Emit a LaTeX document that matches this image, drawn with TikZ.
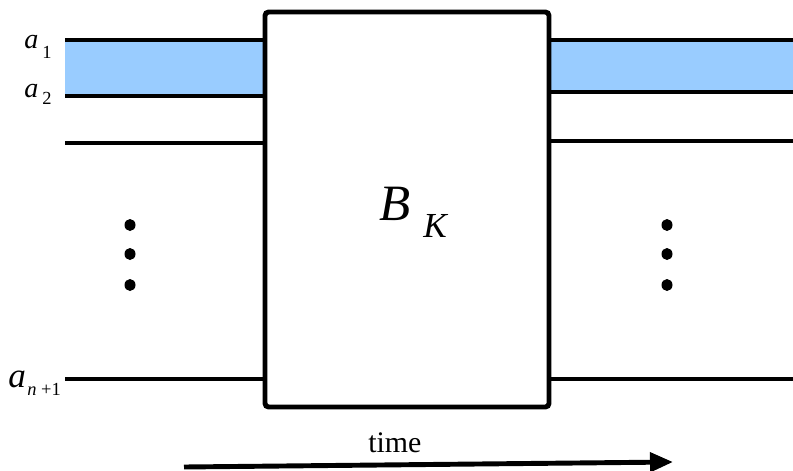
\documentclass[tikz,border=0pt]{standalone}
\usepackage{fontspec}
\setmainfont{Liberation Serif}
\usepackage{xcolor}
\usetikzlibrary{arrows.meta,positioning,calc}

\definecolor{bandblue}{HTML}{99CCFF}

\newcommand{\fsz}[1]{\fontsize{#1}{#1}\selectfont}

\begin{document}
\begin{tikzpicture}[x=0.02cm, y=-0.02cm,
    wire/.style={line width=2.8pt, black},
    lbl/.style={inner sep=0pt, anchor=base west}]
    \useasboundingbox (0,0) rectangle (793,470);

    % Shaded bands
    \fill[bandblue] (65,40) rectangle (265,96);
    \fill[bandblue] (549,40) rectangle (793,92);

    % Braid box
    \node[draw, line width=2.8pt, rounded corners=2pt, minimum width=5.68cm, minimum height=7.9cm,
          inner sep=0pt] (blk) at (407,209.5) {};
    \node[lbl] (bname) at (379,220) {\fsz{29}\itshape B};
    \node[lbl] (bsub) at (423,237) {\fsz{20}\itshape K};

    % Strands on the left
    \coordinate (l1) at (65,40);
    \coordinate (l2) at (65,96);
    \coordinate (l3) at (65,143);
    \coordinate (ln) at (65,379);
    \foreach \c in {l1,l2,l3,ln}
        \draw[wire] (\c) -- (\c -| blk.west);

    % Strands on the right
    \coordinate (r1) at (793,40);
    \coordinate (r2) at (793,92);
    \coordinate (r3) at (793,141);
    \coordinate (rn) at (793,379);
    \foreach \c in {r1,r2,r3,rn}
        \draw[wire] (\c -| blk.east) -- (\c);

    % Labels
    \node[lbl] (a1) at (24,48) {\fsz{16}\itshape a};
    \node[lbl] (a1s) at (42,58) {\fsz{10.5}1};
    \node[lbl] (a2) at (24,97) {\fsz{16}\itshape a};
    \node[lbl] (a2s) at (42,104) {\fsz{10.5}2};
    \node[lbl] (an) at (8,387) {\fsz{20}\itshape a};
    \node[lbl] (ans) at (27,395) {\fsz{10.5}{\itshape n} +1};

    % Dots
    \foreach \y in {225,254,285} {
        \fill (130,\y) ellipse (5.5 and 6);
        \fill (667,\y) ellipse (5.5 and 6);
    }

    % Time arrow
    \coordinate (t0) at (184,467);
    \coordinate (t1) at (673,462);
    \draw[line width=2.8pt, -{Triangle[length=0.46cm,width=0.38cm]}] (t0) -- (t1);
    \node[lbl] (time) at (368,452) {\fsz{17}time};
\end{tikzpicture}
\end{document}
